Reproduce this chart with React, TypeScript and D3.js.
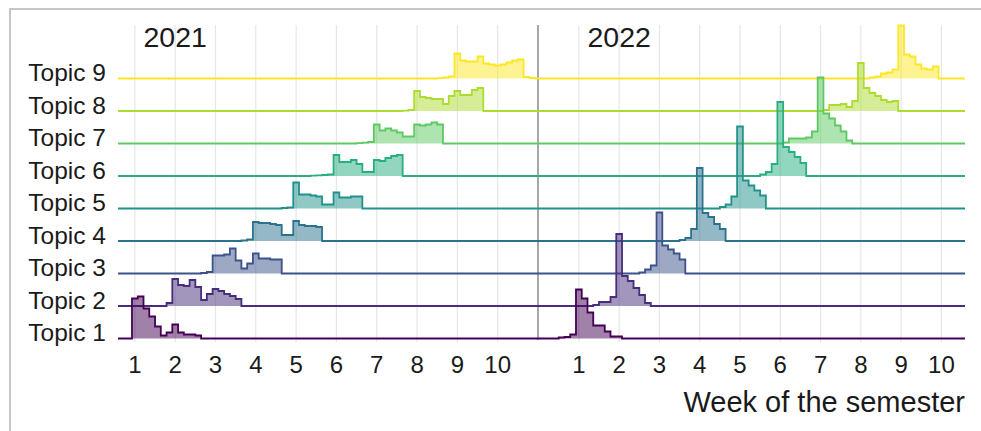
import React from "react";
import * as d3 from "d3";

// ---------- data ----------
const TOPICS = ["Topic 1", "Topic 2", "Topic 3", "Topic 4", "Topic 5", "Topic 6", "Topic 7", "Topic 8", "Topic 9"];
const YEARS = ["2021", "2022"];
const WEEK_TICKS = [1, 2, 3, 4, 5, 6, 7, 8, 9, 10];
const X_TITLE = "Week of the semester";

// daily activity per topic (first value = day given in start arrays; day 0 = first day of week 1)
const starts2021 = [0, 6, 12, 19, 26, 31, 39, 47, 53];
const t1_2021 = [40, 42, 30, 22, 12, 3, 6, 14, 6, 4, 4, 3];
const t2_2021 = [3, 27, 21, 20, 26, 19, 6, 12, 17, 15, 12, 10, 7];
const t3_2021 = [0.5, 1.5, 18, 18, 19, 25, 13, 5, 10, 20, 15, 15, 14, 14];
const t4_2021 = [0.5, 1.5, 19, 18, 18, 17, 16, 6, 6, 20, 16, 15, 15, 14];
const t5_2021 = [0.5, 1, 26, 14, 14, 13, 12, 4, 4, 16, 11, 11, 12, 12];
const t6_2021 = [0.3, 0.6, 1, 1.5, 21, 14, 14, 16, 12, 4, 4, 16, 15, 18, 20, 21];
const t7_2021 = [0.3, 0.8, 1.5, 19, 13, 15, 13, 11, 7, 7, 19, 18, 19, 21, 19];
const t8_2021 = [0.3, 1, 20, 14, 13, 12, 12, 7, 15, 20, 16, 16, 21, 23];
const t9_2021 = [0.3, 1, 2, 25, 18, 17, 17, 22, 15, 14, 13, 14, 16, 18, 19, 1.5, 0.5];

const starts2022 = [-3, 3, 11, 18, 25, 32, 36, 43, 51];
const t1_2022 = [1, 1.5, 4, 49, 40, 26, 13, 13, 7, 2, 2];
const t2_2022 = [1, 4, 4, 9, 72, 30, 25, 18, 11, 3];
const t3_2022 = [1, 4, 8, 61, 28, 24, 20, 14];
const t4_2022 = [1, 3, 12, 73, 28, 24, 17, 12];
const t5_2022 = [1.5, 4, 12, 82, 28, 23, 18, 13];
const t6_2022 = [1.5, 4, 12, 74, 29, 24, 19, 13];
const t7_2022 = [1, 5, 5, 5, 6, 12, 66, 30, 25, 18, 12, 3];
const t8_2022 = [1, 6, 6, 7, 4, 10, 48, 23, 18, 15, 11, 9, 10];
const t9_2022 = [1, 2, 5, 6, 9, 53, 24, 22, 14, 10, 9, 12];

const values2021 = [t1_2021, t2_2021, t3_2021, t4_2021, t5_2021, t6_2021, t7_2021, t8_2021, t9_2021];
const values2022 = [t1_2022, t2_2022, t3_2022, t4_2022, t5_2022, t6_2022, t7_2022, t8_2022, t9_2022];

// ---------- layout ----------
const W = 981;
const H = 431;
const FONT = "'Liberation Sans', Arial, Helvetica, sans-serif";
const PANEL_TOP = 25;
const PANEL_BOTTOM = 342;

const panels = [
  { year: YEARS[0], domain: [-2.43, 70.5], range: [118, 538], starts: starts2021, values: values2021 },
  { year: YEARS[1], domain: [-6.6, 67.6], range: [538, 965], starts: starts2022, values: values2022 },
];

const yTopic = d3.scalePoint<string>().domain(TOPICS).range([338.5, 78.5]);
const hScale = d3.scaleLinear().domain([0, 100]).range([0, 100]);
const color = (i: number) => d3.interpolateViridis(i / (TOPICS.length - 1));
const weekDay = (k: number) => 7 * (k - 1) + 0.5;

export default function App() {
  return (
    <svg width={W} height={H} style={{ position: "absolute", left: 0, top: 0, background: "#fff" }} fontFamily={FONT}>
      <rect x={10} y={9} width={W + 20} height={H + 20} fill="#fff" stroke="#b4b4b4" strokeWidth={1.5} />
      {panels.map((p) => {
        const x = d3.scaleLinear().domain(p.domain).range(p.range);
        return (
          <g key={p.year}>
            {WEEK_TICKS.map((k) => (
              <line key={k} x1={x(weekDay(k))} x2={x(weekDay(k))} y1={PANEL_TOP} y2={PANEL_BOTTOM} stroke="#e6e6ea" strokeWidth={1.2} />
            ))}
          </g>
        );
      })}
      <line x1={538} x2={538} y1={PANEL_TOP} y2={PANEL_BOTTOM - 2} stroke="#8a8a8a" strokeWidth={1.5} />
      {panels.map((p) => {
        const x = d3.scaleLinear().domain(p.domain).range(p.range);
        const order = TOPICS.map((_, i) => i).reverse();
        return (
          <g key={"r" + p.year}>
            {order.map((i) => {
              const base = yTopic(TOPICS[i]) as number;
              const vals = p.values[i];
              const s = p.starts[i];
              const pts: [number, number][] = [[p.domain[0], 0]];
              vals.forEach((v, j) => pts.push([s + j, v]));
              pts.push([s + vals.length, 0]);
              pts.push([p.domain[1], 0]);
              const area = d3
                .area<[number, number]>()
                .x((d) => x(d[0]))
                .y0(base)
                .y1((d) => base - hScale(d[1]))
                .curve(d3.curveStepAfter);
              const line = d3
                .line<[number, number]>()
                .x((d) => x(d[0]))
                .y((d) => base - hScale(d[1]))
                .curve(d3.curveStepAfter);
              const c = color(i);
              return (
                <g key={i}>
                  <path d={area(pts) || ""} fill={c} fillOpacity={0.5} stroke="none" />
                  <path d={line(pts) || ""} fill="none" stroke={c} strokeWidth={1.8} strokeLinejoin="miter" />
                </g>
              );
            })}
            {WEEK_TICKS.map((k) => (
              <text key={k} x={x(weekDay(k))} y={373} textAnchor="middle" fontSize={24} fill="#1a1a1a">
                {k}
              </text>
            ))}
            <text x={x(weekDay(2))} y={46.5} textAnchor="middle" fontSize={28.5} fill="#1a1a1a">
              {p.year}
            </text>
          </g>
        );
      })}
      {TOPICS.map((t) => (
        <text key={t} x={106} y={(yTopic(t) as number) + 2.5} textAnchor="end" fontSize={24.5} fill="#1a1a1a">
          {t}
        </text>
      ))}
      <text x={965} y={412} textAnchor="end" fontSize={29} fill="#1a1a1a">
        {X_TITLE}
      </text>
    </svg>
  );
}
